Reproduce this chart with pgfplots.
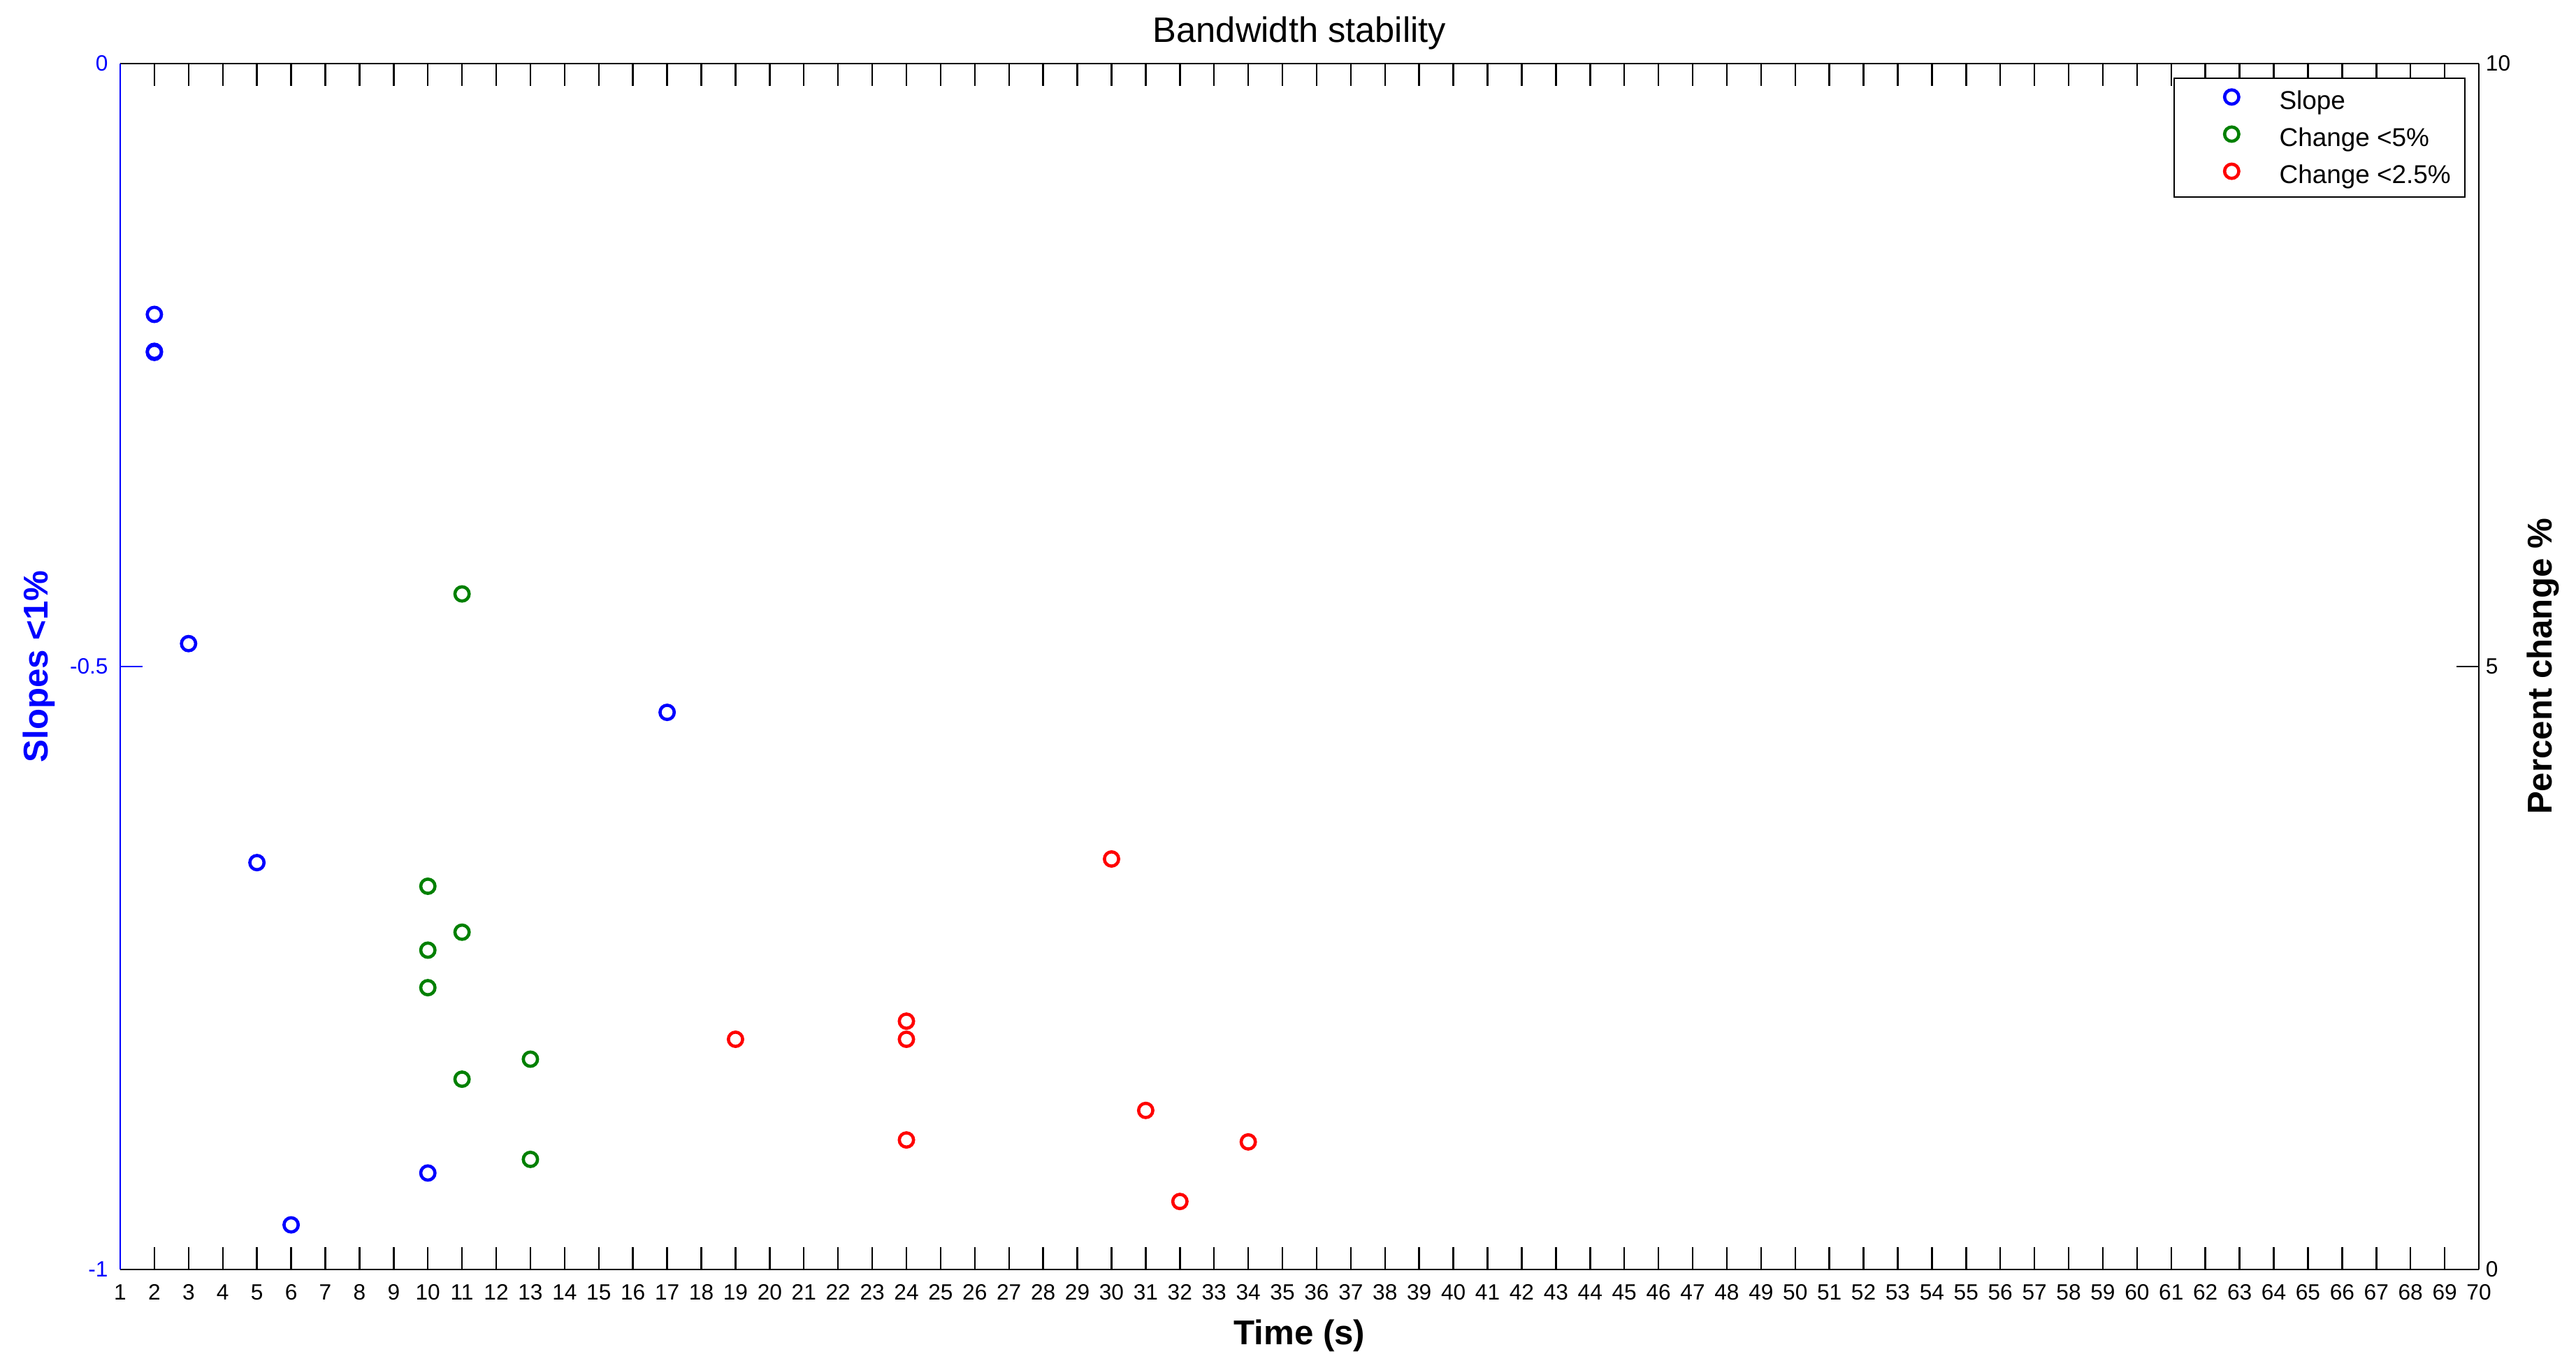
\documentclass[border=0pt]{standalone}
\usepackage{pgfplots}
\pgfplotsset{compat=1.18}
\usepackage{fontspec}
\setmainfont{Liberation Sans}
\definecolor{mblue}{RGB}{0,0,255}
\definecolor{mgreen}{RGB}{0,128,0}
\definecolor{mred}{RGB}{255,0,0}
\pgfplotsset{
  mymark/.style={only marks, mark=o, mark size=2.9pt, line width=1.3pt, mark options={solid},
    legend image code/.code={\draw[##1, only marks] plot coordinates {(0.6cm,1.5pt)}; \path (0cm,0pt) (1cm,0pt);}},
  common/.style={scale only axis, width=33.75cm, height=17.26cm, at={(0,0)}, anchor=south west,
    xmin=1, xmax=70, tick align=inside, major tick length=0.32cm,
    /pgf/number format/assume math mode=true, /pgf/number format/fixed,
    tick label style={font=\fontsize{9}{10}\selectfont},
    every tick/.style={line width=0.7pt},
    axis line style={line width=0.7pt}},
}
\begin{document}
\begin{tikzpicture}
\useasboundingbox (-1.72cm,-1.40cm) rectangle (35.14cm,18.17cm);
\begin{axis}[common,
  ymin=-1, ymax=0,
  axis x line*=box, axis y line*=left,
  xtick={1,...,70}, ytick={-1,-0.5,0},
  x axis line style={black},
  y axis line style={mblue},
  xtick style={black},
  ytick style={mblue},
  yticklabel style={mblue, xshift=-0.05cm},
  xticklabel style={yshift=-0.09cm},
  title={Bandwidth stability},
  title style={at={(axis description cs:0.5,1.0130)}, anchor=center, font=\fontsize{14.4}{17}\selectfont},
  xlabel={\bfseries Time (s)},
  xlabel style={at={(axis description cs:0.5,-0.055)}, anchor=center, font=\fontsize{14}{17}\selectfont},
  ylabel={\bfseries Slopes <1\%},
  ylabel style={at={(axis description cs:-0.0345,0.5)}, anchor=center, rotate=0, mblue, font=\fontsize{14}{17}\selectfont},
]
\addplot[mymark, mblue] coordinates {
(2,-0.208) (2,-0.2386) (2,-0.2395) (3,-0.481) (5,-0.6626) (6,-0.963) (10,-0.920) (17,-0.538)
};
\end{axis}
\begin{axis}[common,
  ymin=0, ymax=10,
  axis x line=none, axis y line*=right,
  ytick={0,5,10},
  y axis line style={black},
  ytick style={black},
  yticklabel style={black, xshift=-0.025cm},
  ylabel={\bfseries Percent change \%},
  ylabel style={at={(axis description cs:1.0273,0.5)}, anchor=center, black, font=\fontsize{14}{17}\selectfont},
  legend style={at={(0.99437,0.98841)}, anchor=north east, draw=black, line width=0.7pt,
    inner xsep=0.2cm, inner ysep=0.143cm, font=\fontsize{10.5}{12}\selectfont,
    nodes={inner sep=0pt, text height=0.85em, text depth=0.15em},
    row sep=0.18cm, /tikz/every odd column/.style={column sep=0.26cm}},
  legend cell align=left,
]
\addlegendimage{mymark, mblue}
\addlegendentry{Slope}
\addplot[mymark, mgreen] coordinates {
(11,5.602) (10,3.178) (11,2.797) (10,2.648) (10,2.337) (13,1.744) (11,1.578) (13,0.913)
};
\addlegendentry{Change <5\%}
\addplot[mymark, mred] coordinates {
(30,3.404) (24,2.059) (19,1.909) (24,1.909) (31,1.319) (24,1.074) (34,1.058) (32,0.564)
};
\addlegendentry{Change <2.5\%}
\end{axis}
\end{tikzpicture}
\end{document}
